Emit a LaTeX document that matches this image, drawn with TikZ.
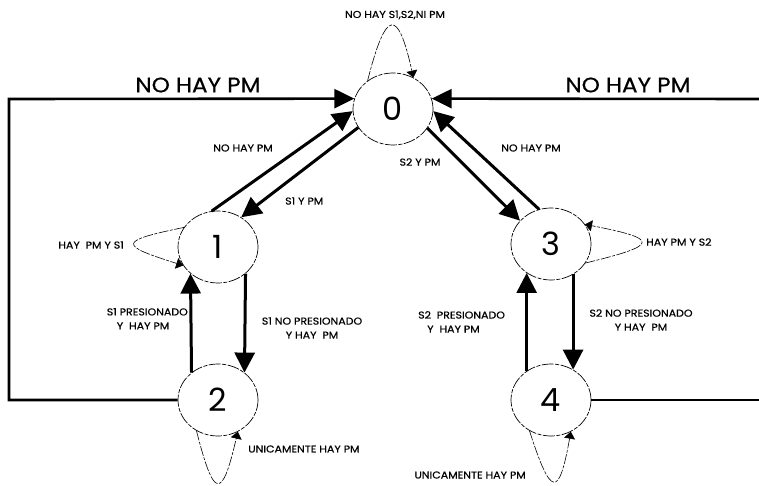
\documentclass[tikz,border=0pt]{standalone}
\usepackage{fontspec}
\setmainfont[FakeStretch=1.1, FakeBold=0.6]{Poppins}
\newfontfamily\statefont{Poppins}
\usepackage{tikz}
\usetikzlibrary{arrows.meta,positioning,shapes.geometric}

\begin{document}
\begin{tikzpicture}[
  x=1pt, y=-1pt,
  statenode/.style={draw, ellipse, minimum width=80pt, minimum height=72pt, inner sep=0pt, line width=0.7pt, dash pattern=on 12pt off 1.5pt on 4pt off 1.5pt, font=\statefont\fontsize{32}{32}\selectfont},
  arr/.style={-{Triangle[length=20pt,width=20pt]}, line width=3pt},
  wire/.style={line width=2.6pt},
  loopline/.style={-{Triangle[length=7pt,width=11pt]}, line width=0.6pt, dash pattern=on 10pt off 1.5pt on 3pt off 1.5pt},
  lbl/.style={font=\fontsize{10}{14}\selectfont, inner sep=0pt},
  biglbl/.style={font=\fontsize{21}{21}\selectfont, inner sep=0pt}
]
\useasboundingbox (0,0) rectangle (759,486);

% States
\node[statenode] (s0) at (393,109) {0};
\node[statenode] (s1) at (218,247) {1};
\node[statenode] (s2) at (218,400) {2};
\node[statenode] (s3) at (551,244) {3};
\node[statenode] (s4) at (551,400) {4};

% Ends of the outer returns
\coordinate (cornerL) at (9,99);
\coordinate (edgeR4) at (759,400);
\coordinate (edgeR0) at (759,99);

% Transitions
\draw[arr] (s1.100) -- (s0.183);
\draw[arr] (s0.208) -- (s1.52);
\draw[arr] (s0.331) -- (s3.143);
\draw[arr] (s3.109) -- (s0.357);
\draw[arr] (s2.134) -- (s1.224);
\draw[arr] (s1.316) -- (s2.46);
\draw[arr] (s4.130) -- (s3.230);
\draw[arr] (s3.306) -- (s4.54);

% Returns to 0
\draw[wire, -{Triangle[length=20pt,width=19pt]}] (s2.west) -| (cornerL) -- (s0.165);
\draw[wire] (s4.east) -- (edgeR4);
\draw[wire, -{Triangle[length=20pt,width=19pt]}] (edgeR0) -- (s0.15);

% Self loops
\draw[loopline] (s0.132) .. controls (386,8) and (398,8) .. (s0.57);
\draw[loopline] (s1.150) .. controls (118,241) and (118,245) .. (s1.208);
\draw[loopline] (s3.331) .. controls (660,245) and (660,239) .. (s3.30);
\draw[loopline] (s2.235) .. controls (214,500) and (222,500) .. (s2.302);
\draw[loopline] (s4.235) .. controls (551,498) and (559,498) .. (s4.302);

% Labels
\node[biglbl] (lblTopL) at (198,85) {NO HAY PM};
\node[biglbl] (lblTopR) at (628,85) {NO HAY PM};
\node[lbl] (lblLoop0) at (395,15) {NO HAY S1,S2,NI PM};
\node[lbl, anchor=east] (lblLoop1) at (124,245) {HAY\ \ PM Y S1};
\node[lbl, anchor=west] (lblLoop3) at (646,242) {HAY PM Y S2};
\node[lbl, anchor=west] (lblLoop2) at (248,449) {UNICAMENTE HAY PM};
\node[lbl, anchor=east] (lblLoop4) at (526,475) {UNICAMENTE HAY PM};
\node[lbl] (lbl10) at (243,148) {NO HAY PM};
\node[lbl, anchor=west] (lbl01) at (285,201) {S1 Y PM};
\node[lbl] (lbl03) at (420,162) {S2 Y PM};
\node[lbl] (lbl30) at (531,148) {NO HAY PM};
\node[lbl, align=left, anchor=north east] (lbl21) at (188,308) {S1 PRESIONADO\\\hspace{10pt}Y\ \ HAY PM};
\node[lbl, align=center] (lbl12) at (312,328) {S1 NO PRESIONADO\\Y HAY\ \ PM};
\node[lbl, align=left, anchor=north west] (lbl43) at (418,311) {S2\ \ PRESIONADO\\\hspace{9pt}Y\ \ HAY PM};
\node[lbl, align=center] (lbl34) at (641,320) {S2 NO PRESIONADO\\Y HAY\ \ PM};

\end{tikzpicture}
\end{document}
